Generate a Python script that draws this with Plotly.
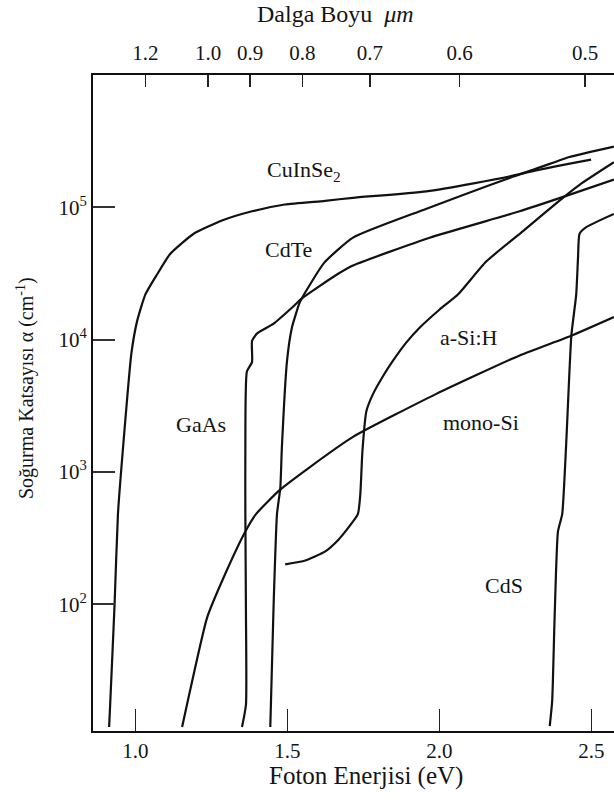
import plotly.graph_objects as go

# ---------------- data ----------------
# photon energy (eV) and absorption coefficient alpha (cm^-1)
cuinse2_E = [0.914, 0.917, 0.932, 0.943, 0.960, 0.987, 1.006, 1.033, 1.071, 1.114,
             1.192, 1.285, 1.384, 1.492, 1.624, 1.716, 1.957, 2.264, 2.428, 2.574]
cuinse2_a = [1.18e1, 1.66e1, 1.0e2, 4.8e2, 1.55e3, 7.8e3, 1.38e4, 2.19e4, 3.09e4, 4.42e4,
             6.31e4, 7.94e4, 9.33e4, 1.05e5, 1.12e5, 1.18e5, 1.32e5, 1.78e5, 2.4e5, 2.88e5]

cdte_E = [1.444, 1.455, 1.466, 1.477, 1.482, 1.499, 1.515, 1.539, 1.547, 1.621,
          1.716, 1.947, 2.275, 2.499]
cdte_a = [1.18e1, 1.0e2, 4.8e2, 7.6e2, 1.51e3, 6.9e3, 1.23e4, 1.86e4, 2.04e4, 3.8e4,
          5.9e4, 9.55e4, 1.8e5, 2.29e5]

gaas_E = [1.351, 1.364, 1.364, 1.362, 1.362, 1.367, 1.384, 1.384, 1.400, 1.455,
          1.515, 1.547, 1.662, 1.716, 1.968, 2.264, 2.417, 2.574]
gaas_a = [1.18e1, 1.74e1, 8.3e1, 4.8e2, 1.51e3, 5.75e3, 6.76e3, 9.77e3, 1.11e4, 1.32e4,
          1.74e4, 2.04e4, 3.09e4, 3.63e4, 5.89e4, 9.33e4, 1.22e5, 1.62e5]

monosi_E = [1.154, 1.170, 1.236, 1.296, 1.362, 1.397, 1.472, 1.570, 1.716, 1.990,
            2.264, 2.434, 2.574]
monosi_a = [1.18e1, 1.74e1, 7.9e1, 1.7e2, 3.55e2, 4.8e2, 7.2e2, 1.07e3, 1.84e3, 3.89e3,
            7.6e3, 1.07e4, 1.48e4]

asih_E = [1.493, 1.559, 1.625, 1.669, 1.691, 1.732, 1.740, 1.747, 1.760, 1.782,
          1.815, 1.847, 1.891, 1.935, 2.001, 2.061, 2.154, 2.275, 2.406, 2.461, 2.574]
asih_a = [2.0e2, 2.14e2, 2.51e2, 3.09e2, 3.55e2, 4.8e2, 6.76e2, 1.44e3, 2.88e3, 3.89e3,
          5.31e3, 6.9e3, 9.49e3, 1.23e4, 1.69e4, 2.19e4, 3.89e4, 6.6e4, 1.18e5, 1.48e5, 2.19e5]

cds_E = [2.363, 2.371, 2.379, 2.390, 2.404, 2.417, 2.434, 2.450, 2.456, 2.461,
         2.483, 2.574]
cds_a = [1.2e1, 1.86e1, 7.9e1, 3.55e2, 4.8e2, 1.62e3, 1.07e4, 2.19e4, 4.17e4, 6.31e4,
         7.08e4, 8.91e4]

# tick labels
energy_ticks = [1.0, 1.5, 2.0, 2.5]
energy_labels = ["1.0", "1.5", "2.0", "2.5"]
wavelength_ticks = [1.2, 1.0, 0.9, 0.8, 0.7, 0.6, 0.5]
wavelength_labels = ["1.2", "1.0", "0.9", "0.8", "0.7", "0.6", "0.5"]
alpha_ticks = [1e2, 1e3, 1e4, 1e5]
alpha_labels = ["10<sup>2</sup>", "10<sup>3</sup>", "10<sup>4</sup>", "10<sup>5</sup>"]

# curve labels
curve_names = ["CuInSe<sub>2</sub>", "CdTe", "a-Si:H", "GaAs", "mono-Si", "CdS"]

# ---------------- figure ----------------
FONT = "Liberation Serif, Times New Roman, serif"
INK = "#111111"
TXT = "#141414"

W, H = 614, 803
L_M, R_M, T_M, B_M = 93, 0, 75, 72
X_RANGE = [0.861, 2.5743]
Y_RANGE = [1.042, 6.0]

fig = go.Figure()
series = [(cuinse2_E, cuinse2_a, "x"), (cdte_E, cdte_a, "x"), (gaas_E, gaas_a, "x"),
          (monosi_E, monosi_a, "x"), (asih_E, asih_a, "x"), (cds_E, cds_a, "x2")]
for ex, ay, xa in series:
    fig.add_trace(go.Scatter(x=ex, y=ay, mode="lines", xaxis=xa, yaxis="y",
                             line=dict(color=INK, width=2.2, shape="spline", smoothing=0.5),
                             showlegend=False, hoverinfo="skip"))

HC = 1.2398  # eV*um
fig.update_layout(
    width=W, height=H,
    margin=dict(l=L_M, r=R_M, t=T_M, b=B_M),
    paper_bgcolor="white", plot_bgcolor="white",
    font=dict(family=FONT, color=TXT, size=20),
    xaxis=dict(range=X_RANGE, showgrid=False, zeroline=False,
               showline=True, linecolor=INK, linewidth=2, mirror=False,
               ticks="inside", ticklen=22, tickwidth=1.5, tickcolor="#222",
               tickvals=energy_ticks, ticktext=energy_labels,
               tickfont=dict(family=FONT, size=21, color=TXT),
               ticklabelstandoff=0),
    xaxis2=dict(range=X_RANGE, overlaying="x", side="top", anchor="y",
                showgrid=False, zeroline=False,
                showline=True, linecolor=INK, linewidth=2,
                ticks="inside", ticklen=12, tickwidth=1.5, tickcolor="#222",
                tickvals=[HC / w for w in wavelength_ticks], ticktext=wavelength_labels,
                tickfont=dict(family=FONT, size=21, color=TXT),
                ticklabelstandoff=5),
    yaxis=dict(type="log", range=Y_RANGE, showgrid=False, zeroline=False,
               showline=True, linecolor=INK, linewidth=2,
               ticks="inside", ticklen=22, tickwidth=2, tickcolor="#333",
               tickvals=alpha_ticks, ticktext=alpha_labels,
               tickfont=dict(family=FONT, size=21, color=TXT)),
)

# curve labels (x in eV, y as log10(alpha) since the axis is logarithmic)
label_pos = [(1.556, 5.274), (1.504, 4.683), (2.097, 4.015),
             (1.216, 3.36), (2.137, 3.373), (2.212, 2.138)]
for name, (lx, ly) in zip(curve_names, label_pos):
    fig.add_annotation(x=lx, y=ly, xref="x", yref="y", text=name, showarrow=False,
                       xanchor="center", yanchor="middle",
                       font=dict(family=FONT, size=22, color=TXT))

plot_w = W - L_M - R_M
plot_h = H - T_M - B_M


def px(x):
    return (x - L_M) / plot_w


def py(y):
    return (H - B_M - y) / plot_h


fig.add_annotation(x=px(366), y=py(776), xref="paper", yref="paper",
                   text="Foton Enerjisi (eV)", showarrow=False,
                   xanchor="center", yanchor="middle",
                   font=dict(family=FONT, size=25, color=TXT))
fig.add_annotation(x=px(335), y=py(14), xref="paper", yref="paper",
                   text="Dalga Boyu  <i>μm</i>", showarrow=False,
                   xanchor="center", yanchor="middle",
                   font=dict(family=FONT, size=24, color=TXT))
fig.add_annotation(x=px(25), y=py(388), xref="paper", yref="paper",
                   text="Soğurma Katsayısı α (cm<sup>-1</sup>)", textangle=-90,
                   showarrow=False, xanchor="center", yanchor="middle",
                   font=dict(family=FONT, size=20, color=TXT))

fig.write_html("out.html",
               config={"displayModeBar": False, "staticPlot": True},
               post_script="document.body.style.margin='0';"
                           "document.body.style.overflow='hidden';")
